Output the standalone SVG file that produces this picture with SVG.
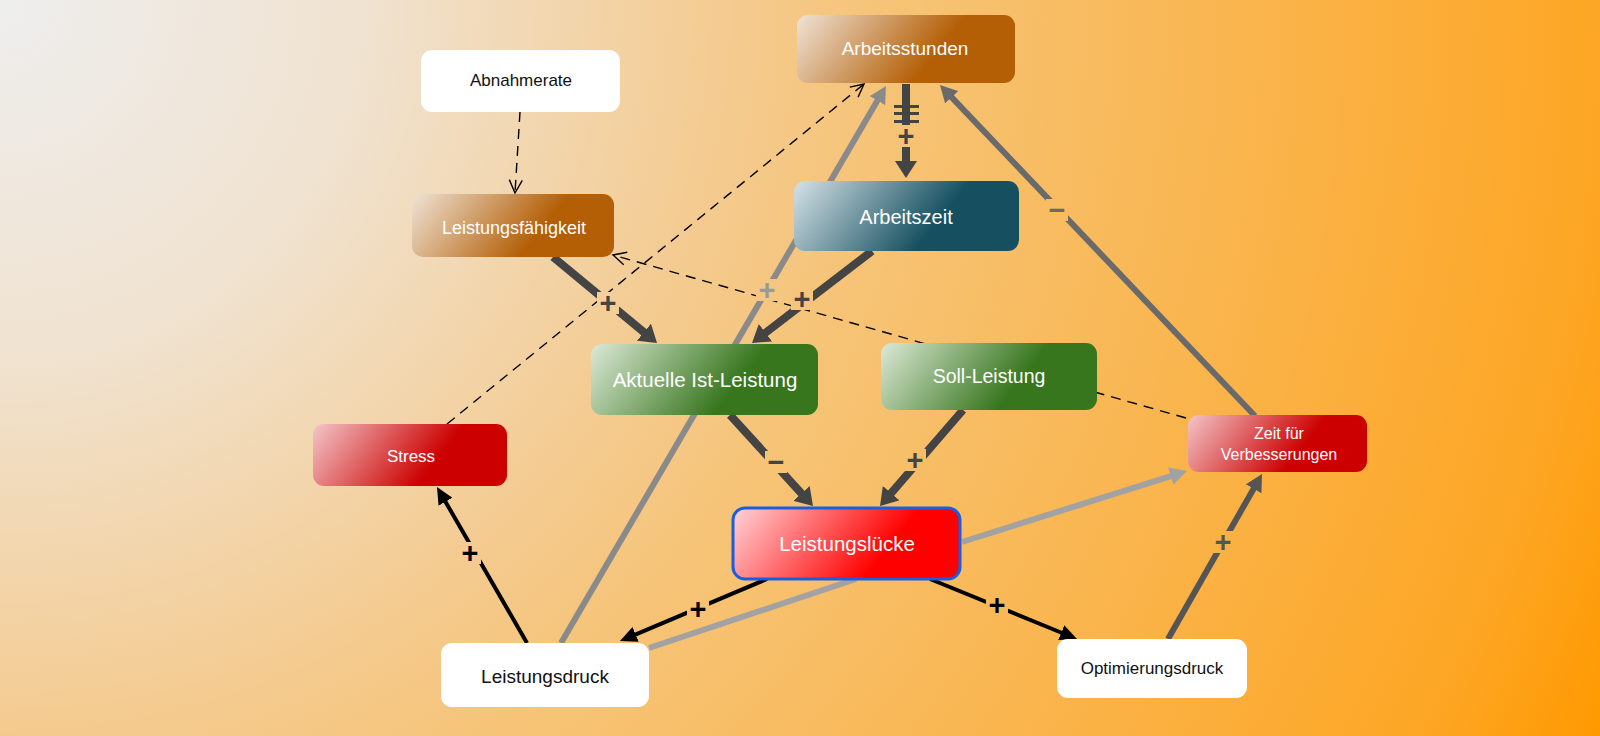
<svg xmlns="http://www.w3.org/2000/svg" width="1600" height="736" viewBox="0 0 1600 736">
<defs>
<style>
.lbl{font-family:"Liberation Sans",Arial,sans-serif;text-anchor:middle;dominant-baseline:central}
.w{fill:#fff}
.k{fill:#111}
.sg{font-family:"Liberation Sans",Arial,sans-serif;text-anchor:middle;dominant-baseline:central;font-size:29px;font-weight:bold}
.dark{stroke:#444;stroke-width:8;fill:none}
.blk{stroke:#000;stroke-width:4;fill:none}
.g1{stroke:#8a8a8a;stroke-width:6;fill:none}
.g2{stroke:#a2a2a2;stroke-width:6;fill:none}
.g3{stroke:#555;stroke-width:6;fill:none}
.g4{stroke:#6a6a6a;stroke-width:6;fill:none}
.dash{stroke:#000;stroke-width:1.4;fill:none;stroke-dasharray:10 7}
</style>
<radialGradient id="bg" gradientUnits="userSpaceOnUse" cx="0" cy="0" r="1761">
<stop offset="0" stop-color="#eeeeee"/>
<stop offset="0.21" stop-color="#f0e2cf"/>
<stop offset="0.42" stop-color="#f4ca8e"/>
<stop offset="0.5" stop-color="#f6c478"/>
<stop offset="0.91" stop-color="#fda624"/>
<stop offset="1" stop-color="#ff9900"/>
</radialGradient>
<linearGradient id="brown" x1="0" y1="0" x2="1" y2="0.25"><stop offset="0" stop-color="#efe3d6"/><stop offset="0.74" stop-color="#b45e05"/><stop offset="1" stop-color="#b45e05"/></linearGradient>
<linearGradient id="teal" x1="0" y1="0" x2="1" y2="0.25"><stop offset="0" stop-color="#d6e2e7"/><stop offset="0.74" stop-color="#165060"/><stop offset="1" stop-color="#165060"/></linearGradient>
<linearGradient id="green" x1="0" y1="0" x2="1" y2="0.25"><stop offset="0" stop-color="#dde9d7"/><stop offset="0.74" stop-color="#37761d"/><stop offset="1" stop-color="#37761d"/></linearGradient>
<linearGradient id="red" x1="0" y1="0" x2="1" y2="0.25"><stop offset="0" stop-color="#f3c6c9"/><stop offset="0.74" stop-color="#cc0000"/><stop offset="1" stop-color="#cc0000"/></linearGradient>
<linearGradient id="bred" x1="0" y1="0" x2="1" y2="0.25"><stop offset="0" stop-color="#ffd4d8"/><stop offset="0.78" stop-color="#ff0000"/><stop offset="1" stop-color="#ff0000"/></linearGradient>
<marker id="mDark" markerUnits="userSpaceOnUse" viewBox="0 -11 17 22" markerWidth="17" markerHeight="22" refX="1" refY="0" orient="auto"><path d="M0,-11 L17,0 L0,11 z" fill="#444"/></marker>
<marker id="mBlk" markerUnits="userSpaceOnUse" viewBox="0 -8 17 16" markerWidth="17" markerHeight="16" refX="1" refY="0" orient="auto"><path d="M0,-8 L17,0 L0,8 z" fill="#000"/></marker>
<marker id="mG1" markerUnits="userSpaceOnUse" viewBox="0 -9 17 18" markerWidth="17" markerHeight="18" refX="1" refY="0" orient="auto"><path d="M0,-9 L17,0 L0,9 z" fill="#8a8a8a"/></marker>
<marker id="mG2" markerUnits="userSpaceOnUse" viewBox="0 -9 17 18" markerWidth="17" markerHeight="18" refX="1" refY="0" orient="auto"><path d="M0,-9 L17,0 L0,9 z" fill="#a2a2a2"/></marker>
<marker id="mG3" markerUnits="userSpaceOnUse" viewBox="0 -9 17 18" markerWidth="17" markerHeight="18" refX="1" refY="0" orient="auto"><path d="M0,-9 L17,0 L0,9 z" fill="#555"/></marker>
<marker id="mG4" markerUnits="userSpaceOnUse" viewBox="0 -9 17 18" markerWidth="17" markerHeight="18" refX="1" refY="0" orient="auto"><path d="M0,-9 L17,0 L0,9 z" fill="#6a6a6a"/></marker>
<marker id="mOpen" markerUnits="userSpaceOnUse" viewBox="-15 -8 17 16" markerWidth="17" markerHeight="16" refX="0" refY="0" orient="auto"><path d="M-13,-6.5 L0,0 L-13,6.5" fill="none" stroke="#000" stroke-width="1.4"/></marker>
<mask id="gaps" maskUnits="userSpaceOnUse" x="0" y="0" width="1600" height="736">
<rect x="0" y="0" width="1600" height="736" fill="#fff"/>
<rect x="896" y="125" width="20" height="22" fill="#000"/>
<rect x="597" y="292" width="22" height="22" fill="#000"/>
<rect x="756" y="279" width="22" height="22" fill="#000"/>
<rect x="791" y="288" width="22" height="22" fill="#000"/>
<rect x="765" y="451" width="22" height="22" fill="#000"/>
<rect x="904" y="449" width="22" height="22" fill="#000"/>
<rect x="687" y="598" width="22" height="22" fill="#000"/>
<rect x="986" y="594" width="22" height="22" fill="#000"/>
<rect x="459" y="542" width="22" height="22" fill="#000"/>
<rect x="1212" y="531" width="22" height="22" fill="#000"/>
<rect x="1046" y="199" width="22" height="22" fill="#000"/>
</mask>
</defs>
<rect x="0" y="0" width="1600" height="736" fill="url(#bg)"/>
<g id="connectors">
<g mask="url(#gaps)">
<path class="dash" d="M520,112 L515,193" marker-end="url(#mOpen)"/>
<path class="dash" d="M447,424 L864,84" marker-end="url(#mOpen)"/>
<path class="dash" d="M1186,418 L613,255" marker-end="url(#mOpen)"/>
<path class="g2" d="M649,648 L856,579"/>
<path class="g1" d="M561,643 L877.9,99.8" marker-end="url(#mG1)"/>
<path class="g2" d="M962,542 L1171.7,475.8" marker-end="url(#mG2)"/>
<path class="g3" d="M1168,639 L1254.1,487.9" marker-end="url(#mG3)"/>
<path class="g4" d="M1255,416 L951,96.6" marker-end="url(#mG4)"/>
<path class="dark" d="M906,84 L906,162" marker-end="url(#mDark)"/>
<path class="dark" d="M553,257 L644.7,332.8" marker-end="url(#mDark)"/>
<path class="dark" d="M872,251 L764.7,333.3" marker-end="url(#mDark)"/>
<path class="dark" d="M730,415 L802.2,494.2" marker-end="url(#mDark)"/>
<path class="dark" d="M963,410 L890.5,493.9" marker-end="url(#mDark)"/>
<path class="blk" d="M767,579 L634.7,634.8" marker-end="url(#mBlk)"/>
<path class="blk" d="M930,579 L1062.2,633" marker-end="url(#mBlk)"/>
<path class="blk" d="M527,643 L445,500.9" marker-end="url(#mBlk)"/>
</g>
<g fill="#444">
<rect x="894" y="105" width="25" height="3"/>
<rect x="894" y="112" width="25" height="3"/>
<rect x="894" y="120" width="25" height="3"/>
</g>
<text class="sg" x="906" y="136" fill="#444">+</text>
<text class="sg" x="608" y="303" fill="#444">+</text>
<text class="sg" x="767" y="290" fill="#999">+</text>
<text class="sg" x="802" y="299" fill="#444">+</text>
<text class="sg" x="776" y="462" fill="#444">−</text>
<text class="sg" x="915" y="460" fill="#444">+</text>
<text class="sg" x="698" y="609" fill="#000">+</text>
<text class="sg" x="997" y="605" fill="#000">+</text>
<text class="sg" x="470" y="553" fill="#000">+</text>
<text class="sg" x="1223" y="542" fill="#555">+</text>
<text class="sg" x="1057" y="210" fill="#6a6a6a">−</text>
</g>
<g id="n-arbeitsstunden"><rect x="797" y="15" width="218" height="68" rx="11" fill="url(#brown)"/><text class="lbl w" x="905" y="48" font-size="19">Arbeitsstunden</text></g>
<g id="n-abnahmerate"><rect x="421" y="50" width="199" height="62" rx="11" fill="#fff"/><text class="lbl k" x="521" y="80" font-size="17">Abnahmerate</text></g>
<g id="n-leistungsfaehigkeit"><rect x="412" y="194" width="202" height="63" rx="11" fill="url(#brown)"/><text class="lbl w" x="514" y="228" font-size="18">Leistungsfähigkeit</text></g>
<g id="n-arbeitszeit"><rect x="794" y="181" width="225" height="70" rx="11" fill="url(#teal)"/><text class="lbl w" x="906" y="217" font-size="20">Arbeitszeit</text></g>
<g id="n-aktuelle"><rect x="591" y="344" width="227" height="71" rx="11" fill="url(#green)"/><text class="lbl w" x="705" y="379" font-size="20.5">Aktuelle Ist-Leistung</text></g>
<g id="n-soll"><rect x="881" y="343" width="216" height="67" rx="11" fill="url(#green)"/><text class="lbl w" x="989" y="376" font-size="19.5">Soll-Leistung</text></g>
<g id="n-stress"><rect x="313" y="424" width="194" height="62" rx="11" fill="url(#red)"/><text class="lbl w" x="411" y="456" font-size="17">Stress</text></g>
<g id="n-zeit"><rect x="1188" y="415" width="179" height="57" rx="11" fill="url(#red)"/><text class="lbl w" x="1279" y="433" font-size="16">Zeit für</text><text class="lbl w" x="1279" y="454" font-size="16">Verbesserungen</text></g>
<g id="n-luecke"><rect x="733" y="508" width="227" height="71" rx="12" fill="url(#bred)" stroke="#1a5ee0" stroke-width="3"/><text class="lbl w" x="847" y="543" font-size="20.5">Leistungslücke</text></g>
<g id="n-leistungsdruck"><rect x="441" y="643" width="208" height="64" rx="11" fill="#fff"/><text class="lbl k" x="545" y="676" font-size="19">Leistungsdruck</text></g>
<g id="n-optimierungsdruck"><rect x="1057" y="639" width="190" height="59" rx="11" fill="#fff"/><text class="lbl k" x="1152" y="668" font-size="17">Optimierungsdruck</text></g>
</svg>
